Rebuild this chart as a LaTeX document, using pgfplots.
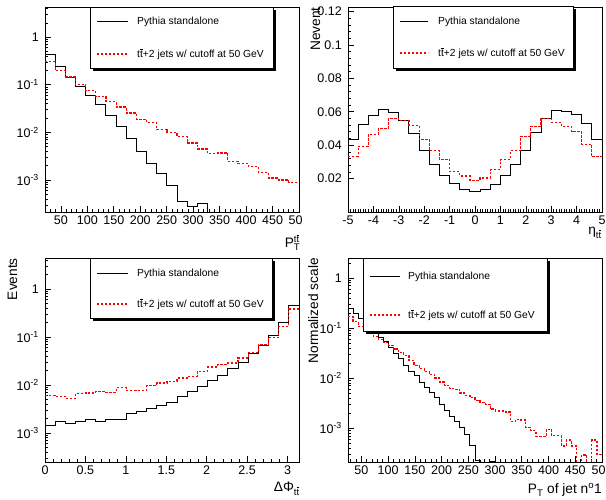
\documentclass[border=0pt]{standalone}
\usepackage{fontspec}
\setmainfont{Liberation Sans}
\usepackage{pgfplots}
\usepackage{pgfplotstable}
\pgfplotsset{compat=1.18}

\newcommand\ticfont{\fontsize{12.5}{14}\selectfont}
\newcommand\titfont{\fontsize{13.7}{16}\selectfont}
\newcommand\legfont{\fontsize{10.3}{12}\selectfont}
\newcommand\ttb{t$\overline{\hbox{t}}$}

% bin left edges, a = Pythia standalone, b = ttbar+2 jets (1e-6 = empty bin)
\pgfplotstableread{
x a b
20 0.44 0.31
39.2 0.243 0.197
58.4 0.145 0.145
77.6 0.092 0.10
96.8 0.059 0.076
116 0.038 0.057
135.2 0.0228 0.045
154.4 0.0134 0.034
173.6 0.0076 0.0255
192.8 0.0040 0.019
212 0.0022 0.0162
231.2 0.0014 0.0114
250.4 0.00076 0.010
269.6 0.000357 0.0082
288.8 0.00028 0.006
308 0.00032 0.0045
327.2 1e-6 0.0036
346.4 1e-6 0.0037
365.6 1e-6 0.00247
384.8 1e-6 0.0022
404 1e-6 0.0019
423.2 1e-6 0.00145
442.4 1e-6 0.0011
461.6 1e-6 0.00100
480.8 1e-6 0.00089
500 1e-6 0.00089
}\tlpt

\pgfplotstableread{
x a b
-5.0 0.0434 0.0334
-4.6 0.0526 0.0394
-4.2 0.0580 0.0466
-3.8 0.0614 0.0500
-3.4 0.0594 0.0560
-3.0 0.0550 0.0546
-2.6 0.0470 0.0520
-2.2 0.0366 0.0434
-1.8 0.0284 0.0366
-1.4 0.0216 0.0314
-1.0 0.0170 0.0240
-0.6 0.0136 0.0216
-0.2 0.0120 0.0190
0.2 0.0136 0.0204
0.6 0.0164 0.0254
1.0 0.0216 0.0314
1.4 0.0284 0.0366
1.8 0.0370 0.0454
2.2 0.0476 0.0514
2.6 0.0560 0.0560
3.0 0.0606 0.0536
3.4 0.0602 0.0514
3.8 0.0586 0.0480
4.2 0.0530 0.0406
4.6 0.0434 0.0330
5.0 0.0434 0.0330
}\treta

\pgfplotstableread{
x a b
0 0.00144 0.0061
0.1257 0.00175 0.0058
0.2513 0.00154 0.0052
0.3770 0.00175 0.0066
0.5027 0.0019 0.0068
0.6283 0.0017 0.0074
0.7540 0.0019 0.0070
0.8796 0.0019 0.0087
1.0053 0.0025 0.0077
1.1310 0.0028 0.0077
1.2566 0.0033 0.0097
1.3823 0.0037 0.0110
1.5080 0.0044 0.0119
1.6336 0.0058 0.0140
1.7593 0.0074 0.0152
1.8850 0.0094 0.0193
2.0106 0.0123 0.0237
2.1363 0.0156 0.0265
2.2619 0.0216 0.0287
2.3876 0.030 0.0365
2.5133 0.046 0.048
2.6389 0.067 0.069
2.7646 0.107 0.098
2.8903 0.196 0.167
3.0159 0.457 0.383
3.1416 0.457 0.383
}\blphi

\pgfplotstableread{
x a b
25 0.249 0.170
34.5 0.191 0.135
44 0.157 0.107
53.5 0.125 0.090
63 0.100 0.077
72.5 0.084 0.067
82 0.065 0.058
91.5 0.053 0.051
101 0.040 0.045
110.5 0.031 0.038
120 0.0245 0.032
129.5 0.018 0.028
139 0.0138 0.022
148.5 0.0113 0.018
158 0.0083 0.0155
167.5 0.0066 0.0133
177 0.0052 0.0118
186.5 0.0041 0.0100
196 0.0030 0.0083
205.5 0.0022 0.0071
215 0.0017 0.0062
224.5 0.00136 0.0060
234 0.00103 0.0050
243.5 0.00076 0.0045
253 0.00045 0.0041
262.5 0.00022 0.0036
272 1e-6 0.0033
281.5 1e-6 0.0030
291 0.00021 0.0024
300.5 1e-6 0.0022
310 1e-6 0.0022
319.5 1e-6 0.0021
329 1e-6 0.00136
338.5 1e-6 0.00151
348 1e-6 0.00145
357.5 1e-6 0.00103
367 1e-6 0.00088
376.5 1e-6 0.00067
386 1e-6 0.00067
395.5 1e-6 0.00095
405 1e-6 0.00070
414.5 1e-6 0.00070
424 1e-6 0.00044
433.5 1e-6 0.00058
443 1e-6 0.00044
452.5 1e-6 1e-6
462 1e-6 0.00029
471.5 1e-6 1e-6
481 1e-6 0.00058
490.5 1e-6 0.00030
500 1e-6 0.00030
}\brjet

\tikzset{
  pyth/.style={black, line width=1pt},
  ttj/.style={draw=red, color=red, line width=1.2pt, dash pattern=on 2.4pt off 1.6pt},
}

\pgfplotsset{
  myroot/.style={
    scale only axis, anchor=south west, width=254pt,
    axis line style={line width=0.8pt},
    tick pos=left, tick align=inside,
    major tick length=6pt, minor tick length=3pt,
    every tick/.style={black, line width=0.6pt},
    tick label style={font=\ticfont},
    xticklabel style={anchor=north, inner sep=0pt, yshift=-4pt},
    yticklabel style={anchor=east, inner sep=0pt, xshift=-6pt},
  },
  mylogy/.style={
    ytick={0.001,0.01,0.1,1},
    yticklabels={10\textsuperscript{-3},10\textsuperscript{-2},10\textsuperscript{-1},1},
    minor ytick={2e-4,3e-4,4e-4,5e-4,6e-4,7e-4,8e-4,9e-4,2e-3,3e-3,4e-3,5e-3,6e-3,7e-3,8e-3,9e-3,0.02,0.03,0.04,0.05,0.06,0.07,0.08,0.09,0.2,0.3,0.4,0.5,0.6,0.7,0.8,0.9,2,3,4},
  },
  myptx/.style={
    xtick={50,100,...,500},
    xticklabels={50,100,150,200,250,300,350,400,450,50\phantom{0}},
    minor xtick={20,30,...,500},
  },
}

\begin{document}
\begin{tikzpicture}[x=1pt,y=1pt]
\useasboundingbox (0,0) rectangle (606,500);

% top left: pT of ttbar
\begin{semilogyaxis}[myroot, mylogy, myptx, at={(45pt,288pt)}, height=205pt,
  xmin=20, xmax=500, ymin=2.13e-4, ymax=4.3]
\addplot[pyth, const plot mark left] table[x=x, y=a] {\tlpt};
\addplot[ttj, const plot mark left] table[x=x, y=b] {\tlpt};
\end{semilogyaxis}

% top right: eta of ttbar
\begin{axis}[myroot, at={(348pt,288pt)}, height=205pt,
  xmin=-5, xmax=5, ymin=0, ymax=0.1227,
  xtick={-5,...,5}, xticklabels={-5,-4,-3,-2,-1,0,1,2,3,4,5},
  minor x tick num=9,
  ytick={0.02,0.04,0.06,0.08,0.1,0.12},
  yticklabels={0.02,0.04,0.06,0.08,0.1,0.12},
  minor y tick num=4]
\addplot[pyth, const plot mark left] table[x=x, y=a] {\treta};
\addplot[ttj, const plot mark left] table[x=x, y=b] {\treta};
\end{axis}

% bottom left: delta phi
\begin{semilogyaxis}[myroot, mylogy, at={(45pt,38pt)}, height=204pt,
  xmin=0, xmax=3.1416, ymin=2.49e-4, ymax=4.4,
  xtick={0,0.5,...,3}, xticklabels={0,0.5,1,1.5,2,2.5,3},
  minor x tick num=4]
\addplot[pyth, const plot mark left] table[x=x, y=a] {\blphi};
\addplot[ttj, const plot mark left] table[x=x, y=b] {\blphi};
\end{semilogyaxis}

% bottom right: pT of leading jet
\begin{semilogyaxis}[myroot, mylogy, myptx, at={(348pt,38pt)}, height=204pt,
  xmin=25, xmax=500, ymin=2.1e-4, ymax=2.5]
\addplot[pyth, const plot mark left] table[x=x, y=a] {\brjet};
\addplot[ttj, const plot mark left] table[x=x, y=b] {\brjet};
\end{semilogyaxis}

% axis titles
\node[anchor=base east, inner sep=0pt, font=\titfont] at (300,252) {P\rlap{\textsubscript{T}}\textsuperscript{\ttb}};
\node[anchor=base east, inner sep=0pt, font=\titfont] at (602,265) {η\textsubscript{\ttb}};
\node[anchor=base east, inner sep=0pt, font=\titfont] at (300,8) {ΔΦ\textsubscript{\ttb}};
\node[anchor=base east, inner sep=0pt, font=\titfont] at (602,6) {P\textsubscript{T} of jet n\textsuperscript{o}1};
\node[anchor=base east, rotate=90, inner sep=0pt, font=\titfont] at (320,493) {Nevent};
\node[anchor=base east, rotate=90, inner sep=0pt, font=\titfont] at (17,242) {Events};
\node[anchor=base east, rotate=90, inner sep=0pt, font=\titfont] at (318,242) {Normalized scale};

% legends (ROOT style box with shadow)
\newcommand\rootleg[9]{%
  \fill[black] (#1+3,#2-3) rectangle (#3+3,#4-3);
  \draw[fill=white, line width=0.8pt] (#1,#2) rectangle (#3,#4);
  \draw[pyth] (#7,#5) -- (#8,#5);
  \node[anchor=west, inner sep=0pt, font=\legfont] at (#9,#5) {Pythia standalone};
  \draw[ttj] (#7,#6) -- (#8,#6);
  \node[anchor=west, inner sep=0pt, font=\legfont] at (#9,#6) {\ttb+2 jets w/ cutoff at 50 GeV};
}
\rootleg{90}{432}{273}{493}{478}{446}{97}{128}{137}
\rootleg{393}{432}{573}{494}{478}{447}{400}{428}{438}
\rootleg{90}{182}{272}{242}{226}{196}{97}{128}{137}
\rootleg{363}{169}{547}{242}{223}{185}{370}{400}{408}
\end{tikzpicture}
\end{document}
